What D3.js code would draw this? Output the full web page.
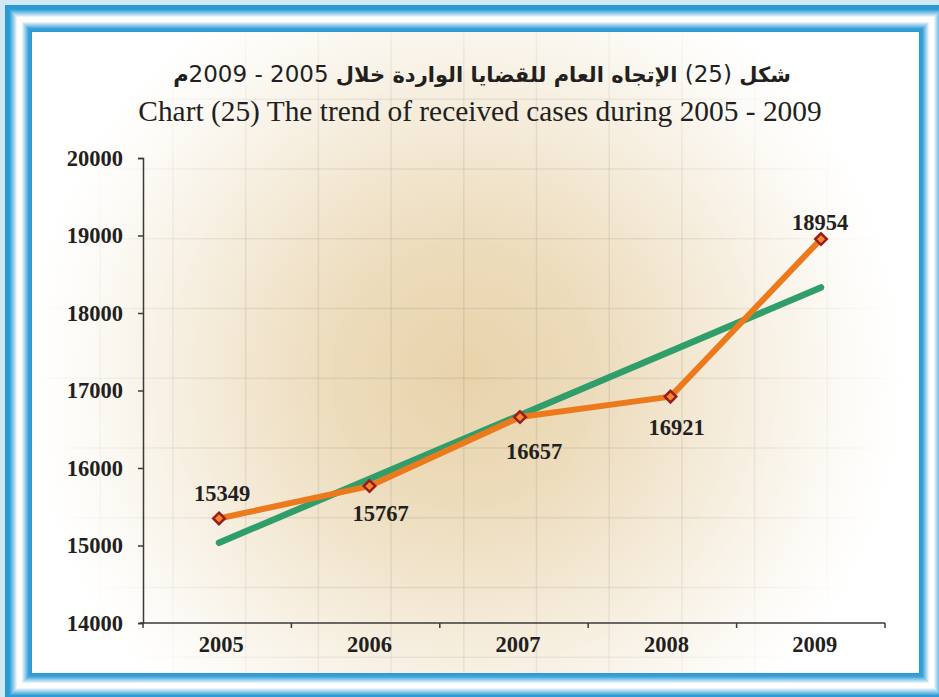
<!DOCTYPE html>
<html>
<head>
<meta charset="utf-8">
<script src="https://cdn.jsdelivr.net/npm/d3@7"></script>
<style>
  html, body { margin: 0; padding: 0; background: #d0e9f8; }
  svg { display: block; }
</style>
</head>
<body>
<svg id="chart" width="939" height="697"></svg>
<script>
// ---- data ----
const years = ["2005", "2006", "2007", "2008", "2009"];
const cases = [15349, 15767, 16657, 16921, 18954];
const trendYears = ["2005", "2009"];
const trendValues = [15035, 18330];
const yTicks = [14000, 15000, 16000, 17000, 18000, 19000, 20000];
// Arabic title pieces in logical order: [text, bold?]
const titleArParts = [["شكل ", true], ["(25)", false], [" الإتجاه العام للقضايا الواردة خلال ", true],
  ["2005 - 2009", false], ["م", true]];
const titleEn = "Chart (25) The trend of received cases during 2005 - 2009";

// ---- layout ----
const W = 939, H = 697;
const svg = d3.select("#chart");
const defs = svg.append("defs");

svg.append("rect").attr("width", W).attr("height", H).attr("fill", "#d0e9f8");

// frame (blue -> white -> blue bevel)
const frame = { x0: 5, y0: 5, x1: 946, y1: 700, t: 27 };
const frameColor = d3.scaleLinear()
  .domain([0, 4, 12, 16, 23, 27])
  .range(["#2796d2", "#2f9dd6", "#ffffff", "#ffffff", "#3aa2d8", "#2796d2"]);
for (let d = 0; d < frame.t; d++) {
  svg.append("rect")
    .attr("x", frame.x0 + d + 0.5).attr("y", frame.y0 + d + 0.5)
    .attr("width", frame.x1 - frame.x0 - 2 * d - 1)
    .attr("height", frame.y1 - frame.y0 - 2 * d - 1)
    .attr("fill", "none").attr("stroke", frameColor(d)).attr("stroke-width", 1);
}
const inner = { x: frame.x0 + frame.t, y: frame.y0 + frame.t,
  w: (frame.x1 - frame.t) - (frame.x0 + frame.t), h: (frame.y1 - frame.t) - (frame.y0 + frame.t) };

// inner panel with radial tan glow
const rg = defs.append("radialGradient").attr("id", "glow")
  .attr("gradientUnits", "userSpaceOnUse").attr("cx", 465).attr("cy", 375).attr("r", 440);
[[0, "#e8d3aa"], [0.3, "#eddcbc"], [0.6, "#f5ecdb"], [0.85, "#fcfaf5"], [1, "#ffffff"]]
  .forEach(([o, c]) => rg.append("stop").attr("offset", o).attr("stop-color", c));
const rm = defs.append("radialGradient").attr("id", "glowMask")
  .attr("gradientUnits", "userSpaceOnUse").attr("cx", 465).attr("cy", 375).attr("r", 440);
[[0, "#ffffff"], [0.6, "#aaaaaa"], [0.85, "#444444"], [1, "#000000"]]
  .forEach(([o, c]) => rm.append("stop").attr("offset", o).attr("stop-color", c));
defs.append("mask").attr("id", "gridMask").append("rect")
  .attr("x", inner.x).attr("y", inner.y).attr("width", inner.w).attr("height", inner.h)
  .attr("fill", "url(#glowMask)");
defs.append("clipPath").attr("id", "innerClip").append("rect")
  .attr("x", inner.x).attr("y", inner.y).attr("width", inner.w).attr("height", inner.h);

svg.append("rect").attr("x", inner.x).attr("y", inner.y)
  .attr("width", inner.w).attr("height", inner.h).attr("fill", "#ffffff");
svg.append("rect").attr("x", inner.x).attr("y", inner.y)
  .attr("width", inner.w).attr("height", inner.h).attr("fill", "url(#glow)");

// decorative background grid
const grid = svg.append("g").attr("mask", "url(#gridMask)").attr("clip-path", "url(#innerClip)")
  .attr("stroke", "#a99f92").attr("stroke-opacity", 0.3).attr("stroke-width", 1.5);
d3.range(-2, 11).map(k => 173 + 72.7 * k).forEach(x =>
  grid.append("line").attr("x1", x).attr("x2", x).attr("y1", inner.y).attr("y2", inner.y + inner.h));
d3.range(-2, 8).map(k => 169 + 69.75 * k).forEach(y =>
  grid.append("line").attr("y1", y).attr("y2", y).attr("x1", inner.x).attr("x2", inner.x + inner.w));

// titles
const tAr = svg.append("text")
  .attr("x", 482).attr("y", 82)
  .attr("text-anchor", "middle").attr("direction", "rtl")
  .style("unicode-bidi", "embed")
  .attr("font-family", "'DejaVu Sans', sans-serif")
  .attr("font-size", 21).attr("fill", "#231f20");
titleArParts.forEach(([t, b]) => {
  tAr.append("tspan").attr("font-weight", b ? "bold" : "normal")
    .attr("font-size", b ? 21 : 23).text(t);
});
svg.append("text")
  .attr("x", 480).attr("y", 121)
  .attr("text-anchor", "middle")
  .attr("font-family", "'Liberation Serif', 'Times New Roman', serif")
  .attr("font-size", 29.4).attr("fill", "#231f20")
  .text(titleEn);

// scales
const plot = { left: 143, right: 885, top: 158, bottom: 623 };
const y = d3.scaleLinear().domain([14000, 20000]).range([plot.bottom, plot.top]);
const xBand = d3.scaleBand().domain(years).range([plot.left, plot.right]);
const x = d3.scalePoint().domain(years).range([219, 821]);

const serif = "'Liberation Serif', 'Times New Roman', serif";

// y axis
const yAxis = svg.append("g").attr("transform", `translate(${plot.left},0)`)
  .call(d3.axisLeft(y).tickValues(yTicks).tickFormat(d3.format("d")).tickSize(5).tickPadding(15));
yAxis.select(".domain").attr("stroke", "#3a3a3a").attr("stroke-width", 1.5);
yAxis.selectAll(".tick line").attr("stroke", "#3a3a3a").attr("stroke-width", 1.5);
yAxis.selectAll(".tick text").attr("font-family", serif).attr("font-weight", "bold")
  .attr("font-size", 22.5).attr("fill", "#231f20");

// x axis: boundary ticks + centred labels
const xAxis = svg.append("g").attr("transform", `translate(0,${plot.bottom})`);
xAxis.append("line").attr("x1", plot.left - 3).attr("x2", plot.right)
  .attr("stroke", "#3a3a3a").attr("stroke-width", 1.5);
const bounds = years.map(d => xBand(d)).concat([plot.right]);
xAxis.selectAll("line.tk").data(bounds).join("line").attr("class", "tk")
  .attr("x1", d => d).attr("x2", d => d).attr("y1", 0).attr("y2", 5)
  .attr("stroke", "#3a3a3a").attr("stroke-width", 1.5);
xAxis.selectAll("text").data(years).join("text")
  .attr("x", d => xBand(d) + xBand.bandwidth() / 2 + 4).attr("y", 29)
  .attr("text-anchor", "middle").attr("font-family", serif).attr("font-weight", "bold")
  .attr("font-size", 22.5).attr("fill", "#231f20").text(d => d);

// trend line
const line = d3.line().x(d => x(d[0])).y(d => y(d[1]));
svg.append("path")
  .datum(trendYears.map((d, i) => [d, trendValues[i]]))
  .attr("d", line).attr("fill", "none")
  .attr("stroke", "#2f9e6b").attr("stroke-width", 6.5).attr("stroke-linecap", "round");

// data line
const pts = years.map((d, i) => [d, cases[i]]);
svg.append("path").datum(pts).attr("d", line).attr("fill", "none")
  .attr("stroke", "#ec7a1d").attr("stroke-width", 6).attr("stroke-linejoin", "round")
  .attr("stroke-linecap", "round");

// markers
const diamond = d3.symbol().type(d3.symbolDiamond2).size(85);
svg.selectAll("path.mk").data(pts).join("path").attr("class", "mk")
  .attr("transform", d => `translate(${x(d[0])},${y(d[1])})`)
  .attr("d", diamond).attr("fill", "#f08c28").attr("stroke", "#9c1a1e").attr("stroke-width", 2.5);

// value labels
const labelOffsets = [[3, -25], [11, 27], [14, 34], [6, 31], [-1, -17]];
svg.selectAll("text.val").data(pts).join("text").attr("class", "val")
  .attr("x", (d, i) => x(d[0]) + labelOffsets[i][0])
  .attr("y", (d, i) => y(d[1]) + labelOffsets[i][1] + 7.5)
  .attr("text-anchor", "middle").attr("font-family", serif).attr("font-weight", "bold")
  .attr("font-size", 22.5).attr("fill", "#231f20").text(d => d[1]);
</script>
</body>
</html>
